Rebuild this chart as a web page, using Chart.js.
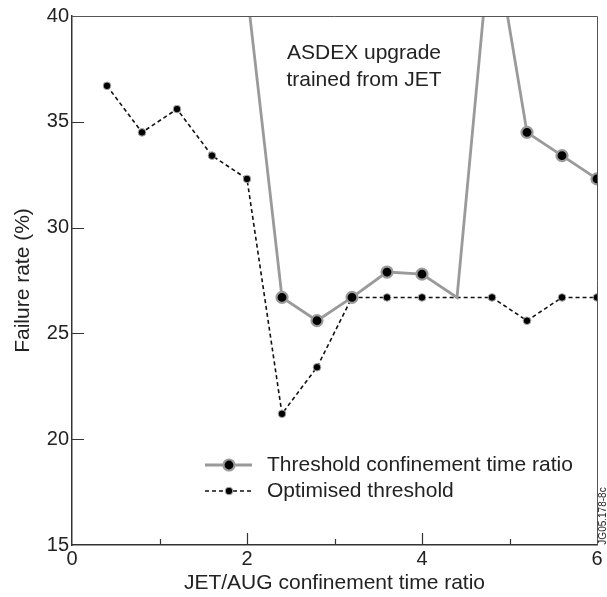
<!DOCTYPE html>
<html>
<head>
<meta charset="utf-8">
<script src="https://cdn.jsdelivr.net/npm/chart.js@4/dist/chart.umd.min.js"></script>
<style>
  body { margin: 0; background: #fff; }
  #wrap { width: 607px; height: 597px; position: relative; }
</style>
</head>
<body>
<div id="wrap"><canvas id="failChart"></canvas></div>
<script>
// data
const thresholdRatio = [2.0, 2.4, 2.8, 3.2, 3.6, 4.0, 4.4, 4.8, 5.2, 5.6, 6.0];
const thresholdFail = [41.2, 26.7, 25.6, 26.7, 27.9, 27.8, 26.7, 44.4, 34.5, 33.4, 32.3];
const thresholdMarker = [false, true, true, true, true, true, false, false, true, true, true];

const optimisedRatio = [0.4, 0.8, 1.2, 1.6, 2.0, 2.4, 2.8, 3.2, 3.6, 4.0, 4.8, 5.2, 5.6, 6.0];
const optimisedFail = [36.7, 34.5, 35.6, 33.4, 32.3, 21.2, 23.4, 26.7, 26.7, 26.7, 26.7, 25.6, 26.7, 26.7];

const xTicks = [0, 2, 4, 6];
const xMinorTicks = [1, 3, 5];
const yTicks = [15, 20, 25, 30, 35, 40];

const seriesNames = ["Threshold confinement time ratio", "Optimised threshold"];
const noteLines = ["ASDEX upgrade", "trained from JET"];
const figureId = "JG05.178-8c";

const FONT = "'Liberation Sans', Arial, Helvetica, sans-serif";
const INK = "#222";

const thresholdData = thresholdRatio.map((x, i) => ({ x: x, y: thresholdFail[i] }));
const optimisedData = optimisedRatio.map((x, i) => ({ x: x, y: optimisedFail[i] }));

// inward ticks, box edges, legend and notes
const extras = {
  id: "extras",
  afterDraw(chart) {
    const ctx = chart.ctx;
    const xs = chart.scales.x;
    const ys = chart.scales.y;
    const a = chart.chartArea;
    ctx.save();

    // top and right edges of the box
    ctx.strokeStyle = "#555";
    ctx.lineWidth = 1;
    ctx.beginPath();
    ctx.moveTo(a.left, a.top + 0.5);
    ctx.lineTo(a.right + 0.5, a.top + 0.5);
    ctx.lineTo(a.right + 0.5, a.bottom);
    ctx.stroke();

    // ticks pointing into the plot
    ctx.strokeStyle = "#333";
    ctx.lineWidth = 1.2;
    ctx.beginPath();
    xTicks.slice(1, -1).forEach(v => {
      const px = Math.round(xs.getPixelForValue(v)) + 0.5;
      ctx.moveTo(px, a.bottom);
      ctx.lineTo(px, a.bottom - 12);
    });
    xMinorTicks.forEach(v => {
      const px = Math.round(xs.getPixelForValue(v)) + 0.5;
      ctx.moveTo(px, a.bottom);
      ctx.lineTo(px, a.bottom - 6);
    });
    yTicks.slice(1, -1).forEach(v => {
      const py = Math.round(ys.getPixelForValue(v)) + 0.5;
      ctx.moveTo(a.left, py);
      ctx.lineTo(a.left + 12, py);
    });
    ctx.stroke();

    // legend
    const ds = chart.data.datasets;
    const lx0 = 205, lx1 = 252, lmid = 229, ltext = 267;
    const rows = [465, 491];
    ds.forEach((d, i) => {
      const y = rows[i];
      ctx.strokeStyle = d.borderColor;
      ctx.lineWidth = d.borderWidth;
      ctx.setLineDash(d.borderDash || []);
      ctx.beginPath();
      ctx.moveTo(lx0, y);
      ctx.lineTo(lx1, y);
      ctx.stroke();
      ctx.setLineDash([]);
      ctx.beginPath();
      ctx.arc(lmid, y, d.legendRadius, 0, Math.PI * 2);
      ctx.fillStyle = d.pointBackgroundColor;
      ctx.fill();
      ctx.strokeStyle = d.pointBorderColor;
      ctx.lineWidth = d.pointBorderWidth;
      ctx.stroke();
      ctx.fillStyle = INK;
      ctx.font = "21px " + FONT;
      ctx.textAlign = "left";
      ctx.textBaseline = "middle";
      ctx.fillText(seriesNames[i], ltext, y);
    });

    // note in the top of the plot
    ctx.fillStyle = INK;
    ctx.font = "21px " + FONT;
    ctx.textAlign = "center";
    ctx.textBaseline = "middle";
    ctx.fillText(noteLines[0], 364, 53);
    ctx.fillText(noteLines[1], 364, 80);

    // figure id up the right edge
    ctx.font = "10px " + FONT;
    ctx.translate(603, 516);
    ctx.rotate(-Math.PI / 2);
    ctx.fillText(figureId, 0, 0);
    ctx.restore();
  }
};

const ctx = document.getElementById("failChart").getContext("2d");
new Chart(ctx, {
  type: "line",
  data: {
    datasets: [{
      label: seriesNames[0],
      data: thresholdData,
      borderColor: "#9a9a9a",
      borderWidth: 2.8,
      pointRadius: thresholdMarker.map(m => m ? 5.5 : 0),
      pointBackgroundColor: "#000",
      pointBorderColor: "#9a9a9a",
      pointBorderWidth: 2.2,
      legendRadius: 5.5,
      tension: 0,
      clip: 0
    }, {
      label: seriesNames[1],
      data: optimisedData,
      borderColor: "#111",
      borderWidth: 1.6,
      borderDash: [4, 3],
      pointRadius: 3.8,
      pointBackgroundColor: "#000",
      pointBorderColor: "#aaa",
      pointBorderWidth: 1,
      legendRadius: 3.8,
      tension: 0,
      clip: 0
    }]
  },
  options: {
    responsive: true,
    maintainAspectRatio: false,
    animation: false,
    layout: { padding: { top: 16, right: 10, left: 0, bottom: 0 } },
    plugins: {
      legend: { display: false },
      tooltip: { enabled: false }
    },
    scales: {
      x: {
        type: "linear",
        min: 0,
        max: 6,
        afterFit: s => { s.height = 52; },
        afterBuildTicks: s => { s.ticks = xTicks.map(v => ({ value: v })); },
        grid: { display: false, drawTicks: false },
        border: { display: true, color: "#333", width: 1.5 },
        ticks: { padding: 2, color: INK, font: { family: FONT, size: 20 }, maxRotation: 0 },
        title: {
          display: true,
          text: "JET/AUG confinement time ratio",
          color: INK,
          font: { family: FONT, size: 21 },
          padding: { top: 0, bottom: 1 }
        }
      },
      y: {
        min: 15,
        max: 40,
        afterFit: s => { s.width = 72; },
        afterBuildTicks: s => { s.ticks = yTicks.map(v => ({ value: v })); },
        grid: { display: false, drawTicks: false },
        border: { display: true, color: "#333", width: 1.5 },
        ticks: { padding: 3, color: INK, font: { family: FONT, size: 20 } },
        title: {
          display: true,
          text: "Failure rate (%)",
          color: INK,
          font: { family: FONT, size: 21 },
          padding: { top: 11, bottom: 0 }
        }
      }
    }
  },
  plugins: [extras]
});
</script>
</body>
</html>
